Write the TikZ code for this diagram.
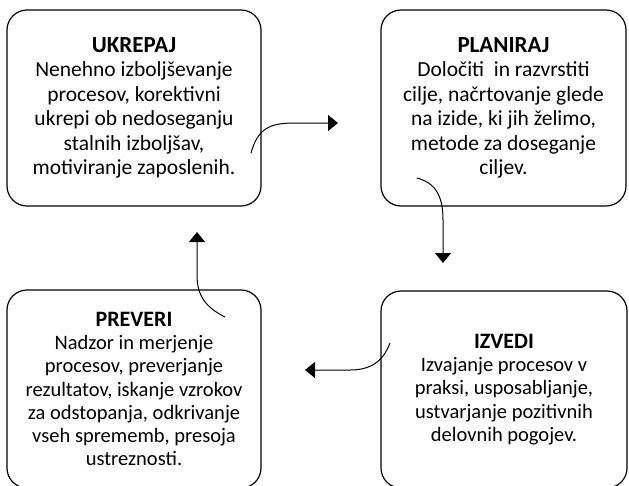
\documentclass[tikz,border=0pt]{standalone}
\usepackage{fontspec}
\setmainfont{Carlito}
\usetikzlibrary{arrows.meta}
\tikzset{
	phase/.style={draw, line width=1.2pt, rounded corners=20pt, align=center, inner sep=0pt},
	flow/.style={line width=1pt, -{Triangle[length=10pt,width=16pt]}}
}
\newcommand{\phasetitle}[2]{{\fontsize{#1}{10}\selectfont\textbf{#2}}}

\begin{document}
\begin{tikzpicture}[x=1pt, y=-1pt]
		%%%%% START %%%%%
		
		\useasboundingbox (0, 0) rectangle (629, 485);
		\clip (0, 0) rectangle (629, 485);
		
		\node[phase, minimum width=254pt, minimum height=196pt, font=\fontsize{21.5}{24.5}\selectfont] (ukrepaj) at (134, 108) {\phasetitle{23}{UKREPAJ}\\Nenehno izboljševanje\\procesov, korektivni\\ukrepi ob nedoseganju\\stalnih izboljšav,\\motiviranje zaposlenih.};
		\node[phase, minimum width=245pt, minimum height=196pt, font=\fontsize{21.5}{24.5}\selectfont] (planiraj) at (503.5, 108) {\phasetitle{23}{PLANIRAJ}\\Določiti\ \ in razvrstiti\\cilje, načrtovanje glede\\na izide, ki jih želimo,\\metode za doseganje\\ciljev.};
		\node[phase, minimum width=254pt, minimum height=198pt, font=\fontsize{20.5}{23.3}\selectfont] (preveri) at (134, 389) {\phasetitle{22}{PREVERI}\\Nadzor in merjenje\\procesov, preverjanje\\rezultatov, iskanje vzrokov\\za odstopanja, odkrivanje\\vseh sprememb, presoja\\ustreznosti.};
		\node[phase, minimum width=246pt, minimum height=197pt, font=\fontsize{20.5}{23.3}\selectfont] (izvedi) at (504, 389.5) {\phasetitle{22}{IZVEDI}\\Izvajanje procesov v\\praksi, usposabljanje,\\ustvarjanje pozitivnih\\delovnih pogojev.};
		
		\coordinate (ukrepaj-out) at (251, 153);
		\coordinate (planiraj-in) at (338, 123);
		\coordinate (planiraj-out) at (417, 178);
		\coordinate (izvedi-in) at (443, 263);
		\coordinate (izvedi-out) at (390, 343);
		\coordinate (preveri-in) at (305, 370);
		\coordinate (preveri-out) at (225, 317);
		\coordinate (ukrepaj-in) at (197, 232);
		
		\draw[flow] (ukrepaj-out) .. controls (258, 128) and (270, 123) .. (295, 123) -- (planiraj-in);
		\draw[flow] (planiraj-out) .. controls (435, 183) and (443, 195) .. (443, 220) -- (izvedi-in);
		\draw[flow] (izvedi-out) .. controls (383, 362) and (370, 370) .. (350, 370) -- (preveri-in);
		\draw[flow] (preveri-out) .. controls (205, 307) and (197, 295) .. (197, 275) -- (ukrepaj-in);
		
		%%%%% END %%%%%
	\end{tikzpicture}
\end{document}
